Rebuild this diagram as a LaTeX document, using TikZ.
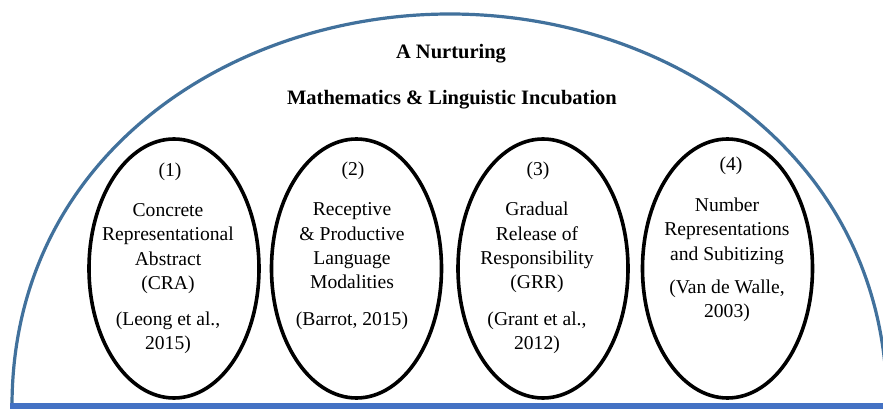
\documentclass[tikz,border=0pt]{standalone}
\usepackage{fontspec}
\setmainfont{Liberation Serif}
\usetikzlibrary{shapes.geometric}
\definecolor{domeblue}{HTML}{41719C}
\definecolor{baseblue}{HTML}{4472C4}
\begin{document}
\begin{tikzpicture}[x=1pt,y=-1pt,
  bubble/.style={draw=black, line width=3.6pt, ellipse, minimum width=170pt, minimum height=259pt, inner sep=0pt, outer sep=0pt},
  txt/.style={font=\fontsize{19.6}{24}\selectfont, anchor=base, inner sep=0pt},
  ttl/.style={font=\fontsize{20.5}{24}\selectfont\bfseries, anchor=base, inner sep=0pt},
  domeline/.style={draw=domeblue, line width=3.2pt},
  groundline/.style={draw=baseblue, line width=6pt}]
\useasboundingbox (0,0) rectangle (883,412);
\clip (0,0) rectangle (883,412);
\fill[white] (0,0) rectangle (883,412);
% dome and ground
\coordinate (dl) at (12,406);
\coordinate (dtop) at (450,14);
\coordinate (dr) at (887,406);
\coordinate (gl) at (10,406);
\coordinate (gr) at (883,406);
\draw[domeline] (dl) .. controls (12,156) and (230,14) .. (dtop)
                     .. controls (670,14) and (887,156) .. (dr);
\draw[groundline] (gl) -- (gr);
% titles
\node[ttl] (t1) at (451,59) {A Nurturing};
\node[ttl] (t2) at (452,104) {Mathematics \& Linguistic Incubation};
% ellipses
\node[bubble] (e1) at (174,268.5) {};
\node[bubble] (e2) at (356.5,268.5) {};
\node[bubble] (e3) at (543,268.5) {};
\node[bubble] (e4) at (727.5,268.5) {};
% ellipse 1
\node[txt] (a0) at (170,176) {(1)};
\node[txt] (a1) at (168,216) {Concrete};
\node[txt] (a2) at (168,240) {Representational};
\node[txt] (a3) at (168,265) {Abstract};
\node[txt] (a4) at (168,289) {(CRA)};
\node[txt] (a5) at (168,325) {(Leong et al.,};
\node[txt] (a6) at (168,349) {2015)};
% ellipse 2
\node[txt] (b0) at (353,175) {(2)};
\node[txt] (b1) at (352,215) {Receptive};
\node[txt] (b2) at (352,240) {\& Productive};
\node[txt] (b3) at (352,264) {Language};
\node[txt] (b4) at (352,288) {Modalities};
\node[txt] (b5) at (352,325) {(Barrot, 2015)};
% ellipse 3
\node[txt] (c0) at (538,175) {(3)};
\node[txt] (c1) at (537,215) {Gradual};
\node[txt] (c2) at (537,240) {Release of};
\node[txt] (c3) at (537,264) {Responsibility};
\node[txt] (c4) at (537,288) {(GRR)};
\node[txt] (c5) at (537,325) {(Grant et al.,};
\node[txt] (c6) at (537,349) {2012)};
% ellipse 4
\node[txt] (d0) at (731,170) {(4)};
\node[txt] (d1) at (727,211) {Number};
\node[txt] (d2) at (727,235) {Representations};
\node[txt] (d3) at (727,260) {and Subitizing};
\node[txt] (d4) at (727,293) {(Van de Walle,};
\node[txt] (d5) at (727,317) {2003)};
\end{tikzpicture}
\end{document}
